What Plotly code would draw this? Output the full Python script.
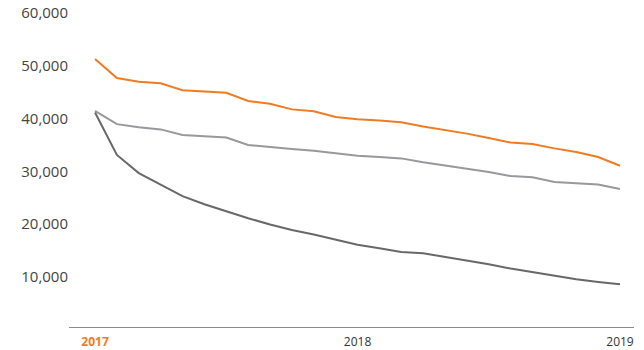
import plotly.graph_objects as go

# Monthly observations, January 2017 through January 2019
months = [
    "2017-01", "2017-02", "2017-03", "2017-04", "2017-05", "2017-06", "2017-07",
    "2017-08", "2017-09", "2017-10", "2017-11", "2017-12", "2018-01", "2018-02",
    "2018-03", "2018-04", "2018-05", "2018-06", "2018-07", "2018-08", "2018-09",
    "2018-10", "2018-11", "2018-12", "2019-01",
]

series_orange = [
    51300, 47700, 47000, 46700, 45400, 45200, 44900, 43350, 42800, 41750, 41400,
    40300, 39900, 39650, 39300, 38500, 37850, 37150, 36300, 35450, 35200, 34350,
    33650, 32700, 31050,
]
series_light = [
    41450, 38950, 38350, 37950, 36900, 36650, 36400, 35000, 34550, 34230, 33900,
    33400, 32950, 32700, 32450, 31700, 31100, 30550, 29850, 29100, 28850, 27950,
    27700, 27500, 26650,
]
series_dark = [
    41150, 33100, 29650, 27400, 25300, 23750, 22350, 21100, 19900, 18850, 18000,
    17000, 16050, 15400, 14700, 14450, 13750, 13100, 12350, 11550, 10850, 10150,
    9500, 9000, 8550,
]

y_tickvals = [10000, 20000, 30000, 40000, 50000, 60000]
y_ticktext = ["10,000", "20,000", "30,000", "40,000", "50,000", "60,000"]

x_tick_index = [0, 12, 24]
x_ticktext = [
    "<span style='color:#F07B22'><b>2017</b></span>",
    "2018",
    "2019",
]

ORANGE = "#F07B22"
LIGHT = "#98989D"
DARK = "#686868"

x = list(range(len(months)))

fig = go.Figure()
for vals, col in [(series_light, LIGHT), (series_dark, DARK), (series_orange, ORANGE)]:
    fig.add_trace(go.Scatter(
        x=x, y=vals, mode="lines",
        line=dict(color=col, width=2),
        customdata=months,
        hovertemplate="%{customdata}: %{y:,}<extra></extra>",
        showlegend=False,
    ))

fig.update_layout(
    width=644, height=350,
    margin=dict(l=69, r=10, t=5, b=23),
    paper_bgcolor="white", plot_bgcolor="white",
    font=dict(family="Open Sans, sans-serif", color="#3f3f3f"),
)
fig.update_xaxes(
    range=[-1.19, 24.64], automargin=False,
    tickvals=x_tick_index, ticktext=x_ticktext,
    showgrid=False, zeroline=False,
    showline=True, linecolor="#8a8a8a", linewidth=1,
    ticks="", ticklabelstandoff=4,
    tickfont=dict(size=12, color="#333333"),
)
fig.update_yaxes(
    range=[455, 61556], automargin=False,
    tickvals=y_tickvals, ticktext=y_ticktext,
    showgrid=False, zeroline=False, showline=False,
    ticks="", tickfont=dict(size=15, color="#444444"),
)

fig.write_html("out.html")
